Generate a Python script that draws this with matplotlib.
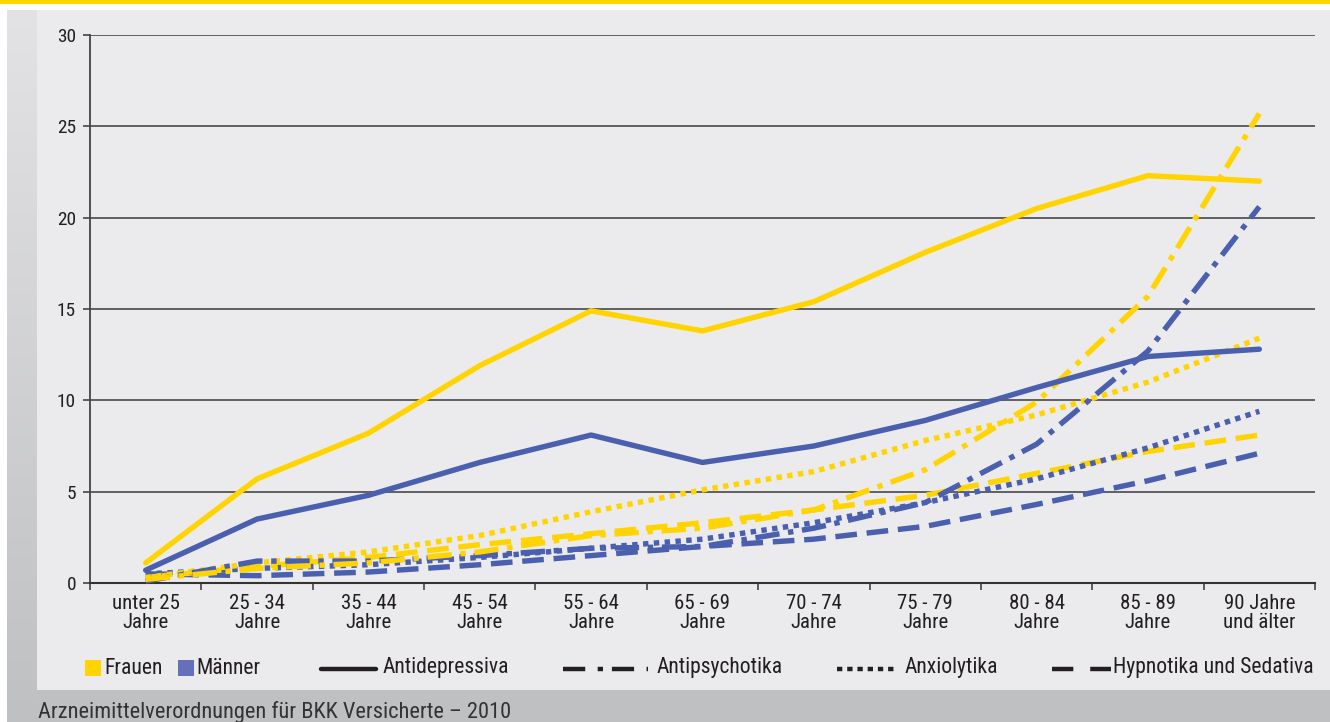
import numpy as np
import matplotlib
matplotlib.use("Agg")
from matplotlib import pyplot as plt
from matplotlib import font_manager
from matplotlib.patches import Rectangle
from matplotlib.lines import Line2D

# pick a narrow font if one is installed
font_names = {f.name for f in font_manager.fontManager.ttflist}
main_font = 'DejaVu Sans'
for cand in ['Liberation Sans Narrow', 'Roboto Condensed', 'Open Sans Condensed', 'DejaVu Sans']:
    if cand in font_names:
        main_font = cand
        break
stretch = 'normal'
if main_font == 'DejaVu Sans':
    if any(f.name == 'DejaVu Sans' and f.stretch == 'condensed' for f in font_manager.fontManager.ttflist):
        stretch = 'condensed'
plt.rcParams['font.family'] = [main_font, 'DejaVu Sans']
plt.rcParams['font.stretch'] = stretch

########## data ###################
categories = ['unter 25\nJahre', '25 - 34\nJahre', '35 - 44\nJahre', '45 - 54\nJahre',
              '55 - 64\nJahre', '65 - 69\nJahre', '70 - 74\nJahre', '75 - 79\nJahre',
              '80 - 84\nJahre', '85 - 89\nJahre', '90 Jahre\nund älter']

frauen_antidep = [1.1, 5.7, 8.2, 11.9, 14.9, 13.8, 15.4, 18.1, 20.5, 22.3, 22.0]
maenner_antidep = [0.7, 3.5, 4.8, 6.6, 8.1, 6.6, 7.5, 8.9, 10.7, 12.4, 12.8]
frauen_antipsych = [0.2, 0.8, 1.1, 1.7, 2.6, 3.0, 4.0, 6.2, 9.9, 15.7, 25.7]
maenner_antipsych = [0.1, 1.2, 1.2, 1.5, 1.9, 2.0, 3.0, 4.4, 7.6, 12.7, 20.6]
frauen_anxio = [0.3, 1.1, 1.7, 2.6, 3.9, 5.1, 6.1, 7.8, 9.2, 11.0, 13.4]
maenner_anxio = [0.5, 0.8, 1.0, 1.4, 1.9, 2.4, 3.3, 4.4, 5.7, 7.4, 9.4]
frauen_hypno = [0.3, 0.9, 1.4, 2.1, 2.7, 3.3, 4.0, 4.8, 6.0, 7.2, 8.1]
maenner_hypno = [0.5, 0.4, 0.6, 1.0, 1.5, 2.0, 2.4, 3.1, 4.3, 5.6, 7.1]

y_ticks = [0, 5, 10, 15, 20, 25, 30]
legend_labels = ['Antidepressiva', 'Antipsychotika', 'Anxiolytika', 'Hypnotika und Sedativa']
caption = 'Arzneimittelverordnungen für BKK Versicherte – 2010'
####################################

yellow = '#ffd400'
blue = '#4a5fae'
dark = '#231f20'
W, H = 1330, 722

# dash patterns (in units of line width)
solid = '-'
dashdot = (0, (4.5, 1.6, 1.0, 1.6))
dotted = (0, (1.0, 1.0))
dashed = (0, (4.0, 1.8))

fig = plt.figure(figsize=(W/100, H/100), dpi=100)
fig.patch.set_facecolor('white')

# scale the font sizes so the longest legend text has the width seen in the reference (~200 px)
renderer = fig.canvas.get_renderer()
probe = fig.text(0, 0, legend_labels[3], fontsize=14.5)
probe_w = probe.get_window_extent(renderer).width
probe.remove()
k = 200.0 / probe_w
fs_leg = 14.5 * k
fs_x = 14 * k
fs_y = 13.0 * k
fs_cap = 15 * k

def px_rect(x0, y0, x1, y1, color):
    # rectangle given in pixels from top-left
    fig.patches.append(Rectangle((x0/W, 1 - y1/H), (x1-x0)/W, (y1-y0)/H,
                                 transform=fig.transFigure, color=color, zorder=-10, lw=0))

px_rect(0, 0, W, 4, yellow)          # yellow band on top
px_rect(37, 10, W, 690, '#ebebed')   # panel
px_rect(7, 690, W, H, '#bfc0c2')     # bottom band

# left strip with vertical gradient
ax_strip = fig.add_axes([7/W, 0, 30/W, (H-10)/H], zorder=-5)
grad = np.linspace(0, 1, 256).reshape(-1, 1)
c_top = np.array([0.890, 0.890, 0.898])
c_bot = np.array([0.749, 0.753, 0.761])
img = c_top[None, None, :] * (1 - grad[:, :, None]) + c_bot[None, None, :] * grad[:, :, None]
ax_strip.imshow(img, aspect='auto', extent=[0, 1, 0, 1])
ax_strip.axis('off')

# main axes
ax = fig.add_axes([90/W, 1 - 583/H, 1225/W, 548/H], zorder=1)
ax.set_facecolor('none')
x = np.arange(len(categories))

series = [
    (maenner_hypno, blue, dashed),
    (frauen_hypno, yellow, dashed),
    (maenner_anxio, blue, dotted),
    (frauen_anxio, yellow, dotted),
    (maenner_antipsych, blue, dashdot),
    (frauen_antipsych, yellow, dashdot),
    (maenner_antidep, blue, solid),
    (frauen_antidep, yellow, solid),
]
for vals, col, ls in series:
    ax.plot(x, vals, color=col, linestyle=ls, linewidth=3.9, solid_capstyle='round',
            clip_on=False, zorder=3)

ax.set_xlim(-0.5, len(categories) - 0.5)
ax.set_ylim(0, 30)
ax.set_yticks(y_ticks)
ax.set_yticklabels([str(t) for t in y_ticks])
ax.yaxis.grid(True, color='#555555', linewidth=1.3)
ax.set_axisbelow(True)

ax.set_xticks(np.arange(-0.5, len(categories)), labels=[''] * (len(categories) + 1))
ax.set_xticks(x, labels=categories, minor=True)
ax.tick_params(axis='x', which='major', length=5, width=1.2, color='#444444', direction='out')
ax.tick_params(axis='x', which='minor', length=0, pad=8, labelsize=fs_x, labelcolor=dark)
ax.tick_params(axis='y', length=5, width=1.2, color='#444444', pad=5, labelsize=fs_y, labelcolor=dark)
for lab in ax.get_xticklabels(minor=True):
    lab.set_linespacing(1.0)

for s in ['top', 'right']:
    ax.spines[s].set_visible(False)
ax.spines['left'].set_color('#444444')
ax.spines['left'].set_linewidth(1.3)
ax.spines['bottom'].set_color('#333333')
ax.spines['bottom'].set_linewidth(1.5)

################ legend (drawn in pixel positions) ################
ly = 668
def fy(py):
    return 1 - py/H

px_rect(85, 660, 101, 676, yellow)
fig.text(104/W, fy(ly), 'Frauen', fontsize=fs_leg, color=dark, va='center', ha='left')
px_rect(178, 660, 194, 676, '#6670b8')
fig.text(196/W, fy(ly), 'Männer', fontsize=fs_leg, color=dark, va='center', ha='left')

# legend samples: dash patterns in units of the sample line width (3.2 pt = 4.4 px)
leg = [
    (321, 376, solid, 383),
    (563, 648, (0, (5.0, 2.8, 1.2, 2.0)), 657),
    (837, 896, (0, (1.2, 1.1)), 905),
    (1052, 1111, (0, (4.8, 3.8)), 1113),
]
for (x0, x1, ls, tx), txt in zip(leg, legend_labels):
    fig.add_artist(Line2D([x0/W, x1/W], [fy(ly + 1), fy(ly + 1)], transform=fig.transFigure,
                          color=dark, linewidth=3.2, linestyle=ls, solid_capstyle='round'))
    fig.text(tx/W, fy(ly), txt, fontsize=fs_leg, color=dark, va='center', ha='left')

fig.text(38/W, fy(701), caption, fontsize=fs_cap, color='#333333', va='top', ha='left')

fig.savefig('out.png', dpi=100)
